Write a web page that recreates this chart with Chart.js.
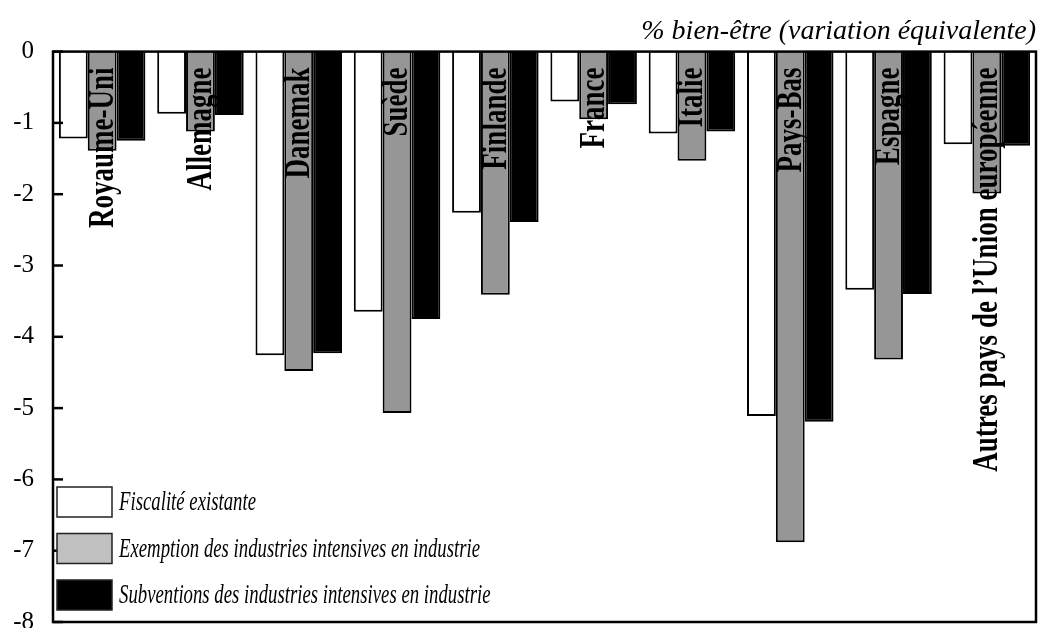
<!DOCTYPE html>
<html>
<head>
<meta charset="utf-8">
<script src="https://cdn.jsdelivr.net/npm/chart.js@4"></script>
<style>
    html, body { margin: 0; padding: 0; overflow: hidden; background: #fff; }
    canvas { display: block; }
</style>
</head>
<body>
<canvas id="grafico" width="1042" height="656"></canvas>
<script>
// données
const pays = ["Royaume-Uni", "Allemagne", "Danemak", "Suède", "Finlande", "France", "Italie", "Pays-Bas", "Espagne", "Autres pays de l\u2019Union européenne"];
const fiscaliteExistante = [-1.22, -0.87, -4.26, -3.65, -2.26, -0.70, -1.15, -5.11, -3.34, -1.30];
const exemptionIndustries = [-1.39, -1.12, -4.48, -5.07, -3.41, -0.95, -1.53, -6.88, -4.32, -1.99];
const subventionsIndustries = [-1.25, -0.89, -4.23, -3.75, -2.39, -0.74, -1.12, -5.19, -3.40, -1.32];
const ticksY = [0, -1, -2, -3, -4, -5, -6, -7, -8];

const serif = "'Liberation Serif', 'Times New Roman', serif";

// cadre + petites graduations vers l'intérieur
const cadre = {
    id: 'cadre',
    afterDatasetsDraw(chart) {
        const { ctx, chartArea: a, scales } = chart;
        ctx.save();
        ctx.strokeStyle = '#000';
        ctx.lineWidth = 2.5;
        ctx.strokeRect(a.left, a.top, a.right - a.left, a.bottom - a.top);
        scales.y.ticks.forEach(t => {
            let y = scales.y.getPixelForValue(t.value);
            ctx.beginPath();
            ctx.moveTo(a.left, y);
            ctx.lineTo(a.left + 10, y);
            ctx.stroke();
        });
        ctx.restore();
    }
};

// noms des pays, verticaux, en haut de chaque groupe
const nomsPays = {
    id: 'nomsPays',
    afterDatasetsDraw(chart) {
        const { ctx, chartArea: a, scales } = chart;
        ctx.save();
        ctx.fillStyle = '#000';
        ctx.font = "bold 27px " + serif;
        ctx.textAlign = 'right';
        ctx.textBaseline = 'middle';
        chart.data.labels.forEach((nom, i) => {
            let x = scales.x.getPixelForValue(i);
            ctx.save();
            ctx.translate(x, a.top + 16);
            ctx.scale(1.3, 1);
            ctx.rotate(-Math.PI / 2);
            ctx.fillText(nom, 0, 1);
            ctx.restore();
        });
        ctx.restore();
    }
};

// légende dans le coin bas gauche
const legendeInterne = {
    id: 'legendeInterne',
    afterDraw(chart, args, opts) {
        const { ctx, chartArea: a } = chart;
        ctx.save();
        ctx.font = "italic 28px " + serif;
        ctx.textBaseline = 'middle';
        chart.data.datasets.forEach((ds, i) => {
            let top = a.bottom - 135 + i * 46.5;
            ctx.fillStyle = opts.fills[i];
            ctx.fillRect(a.left + 4, top, 55, 30);
            ctx.strokeStyle = '#222';
            ctx.lineWidth = 1.5;
            ctx.strokeRect(a.left + 4, top, 55, 30);
            ctx.save();
            ctx.translate(a.left + 66, top + 16);
            ctx.scale(0.67, 1);
            ctx.fillStyle = '#000';
            ctx.fillText(ds.label, 0, 0);
            ctx.restore();
        });
        ctx.restore();
    }
};

new Chart(document.getElementById('grafico'), {
    type: 'bar',
    data: {
        labels: pays,
        datasets: [
            { label: 'Fiscalité existante', data: fiscaliteExistante, backgroundColor: '#ffffff', borderColor: '#000', borderWidth: 2 },
            { label: 'Exemption des industries intensives en industrie', data: exemptionIndustries, backgroundColor: '#969696', borderColor: '#000', borderWidth: 2 },
            { label: 'Subventions des industries intensives en industrie', data: subventionsIndustries, backgroundColor: '#000000', borderColor: '#000', borderWidth: 2 }
        ]
    },
    options: {
        responsive: false,
        animation: false,
        layout: { padding: { left: 14, right: 6, top: 0, bottom: 0 } },
        datasets: { bar: { categoryPercentage: 0.88, barPercentage: 1 } },
        scales: {
            x: { display: false },
            y: {
                min: -8,
                max: 0,
                afterBuildTicks: axis => { axis.ticks = ticksY.map(v => ({ value: v })); },
                afterFit: axis => { axis.width = 39; },
                grid: { display: false, drawTicks: false },
                border: { display: false },
                ticks: {
                    color: '#000',
                    padding: 19,
                    font: { family: serif, size: 25 },
                    callback: v => String(v)
                }
            }
        },
        plugins: {
            legend: { display: false },
            tooltip: { enabled: false },
            title: {
                display: true,
                text: '% bien-être (variation équivalente)',
                align: 'end',
                color: '#000',
                font: { family: serif, size: 28, style: 'italic', weight: 'normal' },
                padding: { top: 15, bottom: 3 }
            },
            legendeInterne: { fills: ['#ffffff', '#c0c0c0', '#000000'] }
        }
    },
    plugins: [cadre, nomsPays, legendeInterne]
});
</script>
</body>
</html>
